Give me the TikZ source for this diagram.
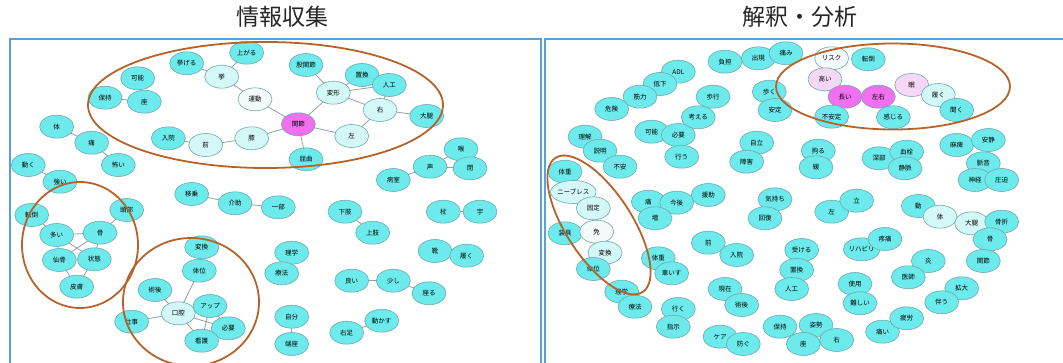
\documentclass[tikz,border=0pt]{standalone}
\usepackage{fontspec}
\newfontfamily\jp{Noto Sans CJK JP}
\usetikzlibrary{shapes.geometric,backgrounds}
\definecolor{cyanf}{RGB}{108,234,236}
\definecolor{lightc}{RGB}{212,248,248}
\definecolor{whitec}{RGB}{244,250,250}
\definecolor{magf}{RGB}{240,112,240}
\definecolor{pinkf}{RGB}{246,216,246}
\definecolor{bord}{RGB}{110,170,175}
\definecolor{edgec}{RGB}{150,160,160}
\definecolor{brownc}{RGB}{180,100,42}
\definecolor{framec}{RGB}{90,160,220}
\tikzset{
  nd/.style={ellipse, draw=bord, line width=0.6pt, fill=cyanf, minimum width=34pt, minimum height=23pt, inner sep=0pt, font=\jp\fontsize{6.5}{7}\selectfont},
  lt/.style={nd, fill=lightc},
  wt/.style={nd, fill=whitec},
  mg/.style={nd, fill=magf},
  pk/.style={nd, fill=pinkf},
  lnk/.style={draw=edgec, line width=0.8pt},
  ring/.style={draw=brownc, line width=1.8pt},
  frm/.style={draw=framec, line width=1.6pt},
  ttl/.style={font=\jp\fontsize{23}{25}\selectfont, text=black!85}
}
\begin{document}
\begin{tikzpicture}[x=1pt,y=-1pt]
\useasboundingbox (0,0) rectangle (1063,363);
\clip (0,0) rectangle (1063,363);
\node[ttl] (t1) at (282,17) {情報収集};
\node[ttl] (t2) at (800,17) {解釈・分析};
\draw[frm] (10,380) -- (10,39) -- (541,39) -- (541,380);
\draw[frm] (545,380) -- (545,39) -- (1080,39);
% ---------- left panel ----------
\node[nd] (Lagaru) at (246.7,52.7) {上がる};
\node[nd] (Lageru) at (186.7,63.3) {挙げる};
\node[lt] (Lkyo) at (221.7,76.7) {挙};
\node[wt] (Lundo) at (255,99.3) {運動};
\node[nd] (Lkokan) at (306,65) {股関節};
\node[lt] (Lhenkei) at (333.3,92.7) {変形};
\node[mg] (Lkansetsu) at (298.3,124.3) {関節};
\node[lt] (Lhiza) at (251.7,138.3) {膝};
\node[lt] (Lmae) at (205.7,145) {前};
\node[nd] (Lnyuin) at (168.3,138.3) {入院};
\node[lt] (Lhidari) at (351.7,136) {左};
\node[nd] (Lkukkyoku) at (306,159.3) {屈曲};
\node[nd] (Lchikan) at (362,75) {置換};
\node[nd] (Ljinko) at (389.3,85) {人工};
\node[lt] (Lmigi) at (380,110) {右};
\node[nd] (Ldaitai) at (426.7,116) {大腿};
\node[nd] (Lkano) at (137.7,78.3) {可能};
\node[nd] (Lhoji) at (105,97.7) {保持};
\node[nd] (Lza) at (144.3,101.7) {座};
\node[nd] (Ltai) at (56.7,126.7) {体};
\node[nd] (Litami) at (91.7,142.7) {痛};
\node[nd] (Lkowai) at (118.3,165) {怖い};
\node[nd] (Lugoku) at (28.3,165) {動く};
\node[nd] (Ltsuyoi) at (60,181.7) {強い};
\node[nd] (Ltento) at (31.7,215) {転倒};
\node[nd] (Looi) at (56.7,235) {多い};
\node[nd] (Lhone) at (100,232.7) {骨};
\node[nd] (Lsenkotsu) at (59.3,260) {仙骨};
\node[nd] (Ljotai) at (94.3,259.3) {状態};
\node[nd] (Lhifu) at (76.7,286.7) {皮膚};
\node[nd] (Ltobu) at (126.7,210) {頭部};
\node[nd] (Lhenkan) at (201.7,247.3) {変換};
\node[nd] (Ltaii) at (199.3,270.7) {体位};
\node[nd] (Ljutsugo) at (155,290) {術後};
\node[lt] (Lkoku) at (178.3,313.3) {口腔};
\node[nd] (Lup) at (210,306) {アップ};
\node[nd] (Lhitsuyo) at (228.3,328.3) {必要};
\node[nd] (Lkango) at (201.7,340.7) {看護};
\node[nd] (Lshigoto) at (131.7,321.7) {仕事};
\node[nd] (Lijo) at (191.7,194) {移乗};
\node[nd] (Lkaijo) at (235,203.3) {介助};
\node[nd] (Lichibu) at (278.3,207.3) {一部};
\node[nd] (Lrigaku) at (291.7,252.7) {理学};
\node[nd] (Lryoho) at (281.7,273.3) {療法};
\node[nd] (Ljibun) at (291.7,316.7) {自分};
\node[nd] (Ltanza) at (291.7,344) {端座};
\node[nd] (Lkashi) at (345,211.7) {下肢};
\node[nd] (Ljoshi) at (372.7,232.7) {上肢};
\node[nd] (Lyoi) at (351.7,280.7) {良い};
\node[nd] (Lsukoshi) at (393.3,280.7) {少し};
\node[nd] (Lsuwaru) at (429,293.3) {座る};
\node[nd] (Lmigiashi) at (346.7,332.7) {右足};
\node[nd] (Lugokasu) at (381.7,320.7) {動かす};
\node[nd] (Ltsue) at (443.3,211.7) {杖};
\node[nd] (Lu) at (480,211.7) {宇};
\node[nd] (Lkutsu) at (435,251) {靴};
\node[nd] (Lhaku) at (466.7,255.7) {履く};
\node[nd] (Lbyoshitsu) at (393.3,180) {病室};
\node[nd] (Lkoe) at (430,166.7) {声};
\node[nd] (Lnodo) at (461,149.3) {喉};
\node[nd] (Lhei) at (470,168.3) {閉};
\begin{scope}[on background layer]
\fill[white] (0,0) rectangle (1063,363);
\foreach \a/\b in {Lagaru/Lkyo, Lageru/Lkyo, Lkyo/Lundo, Lundo/Lkansetsu, Lkokan/Lhenkei, Lhenkei/Lkansetsu, Lhenkei/Lchikan, Lhenkei/Ljinko, Lhenkei/Lmigi, Lchikan/Ljinko, Lmigi/Ljinko, Lmigi/Ldaitai, Lmigi/Lhidari, Lkansetsu/Lhidari, Lkansetsu/Lkukkyoku, Lkansetsu/Lhiza, Lhiza/Lmae, Lmae/Lnyuin, Lkano/Lza, Lhoji/Lza, Ltai/Litami, Litami/Lkowai, Lugoku/Ltsuyoi, Ltento/Looi, Looi/Lhone, Looi/Lsenkotsu, Looi/Ljotai, Lhone/Ljotai, Lhone/Lsenkotsu, Ljotai/Lhifu, Lsenkotsu/Lhifu, Lhone/Ltobu, Lhenkan/Ltaii, Ltaii/Lkoku, Ljutsugo/Lkoku, Lshigoto/Lkoku, Lkoku/Lup, Lkoku/Lhitsuyo, Lkoku/Lkango, Lup/Lhitsuyo, Lup/Lkango, Lijo/Lkaijo, Lkaijo/Lichibu, Lrigaku/Lryoho, Ljibun/Ltanza, Lkashi/Ljoshi, Lyoi/Lsukoshi, Lsukoshi/Lsuwaru, Lmigiashi/Lugokasu, Ltsue/Lu, Lkutsu/Lhaku, Lbyoshitsu/Lkoe, Lkoe/Lnodo, Lkoe/Lhei}
  \draw[lnk] (\a.center) -- (\b.center);
\end{scope}
% ---------- right panel ----------
\node[nd] (RADL) at (678.3,71.7) {ADL};
\node[nd] (Rteika) at (660,84) {低下};
\node[nd] (Rkinryoku) at (640,96.7) {筋力};
\node[nd] (Rkiken) at (611.7,109) {危険};
\node[nd] (Rrikai) at (585,136.7) {理解};
\node[nd] (Rsetsumei) at (600,150.7) {説明};
\node[nd] (Rfuan) at (620,166.7) {不安};
\node[nd] (Rkano) at (651.7,131.7) {可能};
\node[nd] (Rhitsuyo) at (678.3,135) {必要};
\node[nd] (Rokonau) at (681.7,156.7) {行う};
\node[nd] (Rkangaeru) at (698.3,117.3) {考える};
\node[nd] (Rhoko) at (713,96.7) {歩行};
\node[nd] (Rfutan) at (725,61.7) {負担};
\node[nd] (Rshutsugen) at (758.3,58.3) {出現};
\node[nd] (Ritami) at (786,53.3) {痛み};
\node[nd] (Raruku) at (769.3,91.7) {歩く};
\node[nd] (Rantei) at (775,110) {安定};
\node[nd] (Rjiritsu) at (756.7,142.7) {自立};
\node[nd] (Rshogai) at (746.7,161.7) {障害};
\node[nd] (Rkodawaru) at (818.3,150.7) {拘る};
\node[nd] (Rkan) at (816,167.3) {緩};
\node[nd] (Rshinbu) at (879,158.3) {深部};
\node[wt] (Rrisk) at (831.7,58.3) {リスク};
\node[nd] (Rtento) at (868.3,59.3) {転倒};
\node[pk] (Rtakai) at (825,79.3) {高い};
\node[mg] (Rnagai) at (845,96.7) {長い};
\node[mg] (Rsayu) at (878.3,96.7) {左右};
\node[nd] (Rfuantei) at (831.7,116.7) {不安定};
\node[nd] (Rkanjiru) at (893.3,117.3) {感じる};
\node[pk] (Rnemu) at (911.7,85) {眠};
\node[lt] (Rhaku) at (938.3,95) {履く};
\node[nd] (Rkiku) at (956.7,110) {聞く};
\node[nd] (Rmahi) at (956.7,145) {麻痺};
\node[nd] (Ransei) at (988.3,140) {安静};
\node[nd] (Rmyakuon) at (983.3,163.3) {脈音};
\node[nd] (Rshinkei) at (975,180) {神経};
\node[nd] (Rappaku) at (1001.7,180) {圧迫};
\node[nd] (Rkessen) at (906.7,151.7) {血栓};
\node[nd] (Rjomyaku) at (905,168.3) {静脈};
\node[nd] (Rtaiju) at (565,171.7) {体重};
\node[lt] (Rknee) at (573.3,192) {ニーブレス};
\node[lt] (Rkotei) at (593.3,208.3) {固定};
\node[nd] (Rsogu) at (565,233.3) {装具};
\node[wt] (Rmen) at (596.7,231.7) {免};
\node[lt] (Rhenkan) at (605,252.7) {変換};
\node[nd] (Rtaii) at (593.3,269) {体位};
\node[nd] (Rrigaku) at (621.7,291.7) {理学};
\node[nd] (Rryoho) at (635,306.7) {療法};
\node[nd] (Rtsu) at (648.3,201.7) {痛};
\node[nd] (Rkongo) at (676.7,202.7) {今後};
\node[nd] (Renjo) at (708.3,195) {援助};
\node[nd] (Rzo) at (655,218.3) {増};
\node[nd] (Rtaiju2) at (658.3,258.3) {体重};
\node[nd] (Rkurumaisu) at (671.7,273.3) {車いす};
\node[nd] (Riku) at (678.3,309) {行く};
\node[nd] (Rshiji) at (673.3,326.7) {指示};
\node[nd] (Rmae) at (708.3,242.7) {前};
\node[nd] (Rnyuin) at (736.7,255) {入院};
\node[nd] (Rgenzai) at (725,289) {現在};
\node[nd] (Rjutsugo) at (741.7,305) {術後};
\node[nd] (Rcare) at (720,336.7) {ケア};
\node[nd] (Rfusegu) at (743.3,344) {防ぐ};
\node[nd] (Rkimochi) at (775,199.3) {気持ち};
\node[nd] (Rkaifuku) at (765,218.3) {回復};
\node[nd] (Rhidari) at (831.7,211.7) {左};
\node[nd] (Rtatsu) at (856.7,200.7) {立};
\node[nd] (Rukeru) at (801.7,250) {受ける};
\node[nd] (Rchikan) at (796.7,270) {置換};
\node[nd] (Rjinko) at (791.7,289) {人工};
\node[nd] (Rreha) at (861.7,249.3) {リハビリ};
\node[nd] (Rtotsu) at (885,239) {疼痛};
\node[nd] (Rshiyo) at (855,284) {使用};
\node[nd] (Rmuzukashii) at (860,303.3) {難しい};
\node[nd] (Rhoji) at (780,326.7) {保持};
\node[nd] (Rshisei) at (816,325) {姿勢};
\node[nd] (Rza) at (803.3,344) {座};
\node[nd] (Rmigi) at (836.7,340) {右};
\node[nd] (Ritai) at (882.5,331.7) {痛い};
\node[nd] (Rhiro) at (906.7,318.3) {疲労};
\node[nd] (Rdo) at (918.3,206) {動};
\node[lt] (Rtai) at (940,216.7) {体};
\node[lt] (Rdaitai) at (971.7,223.3) {大腿};
\node[nd] (Rkossetsu) at (1001.7,221.7) {骨折};
\node[nd] (Rhone) at (990,239.3) {骨};
\node[nd] (Rkansetsu) at (983.3,261) {関節};
\node[nd] (Ren) at (928.3,261) {炎};
\node[nd] (Rishi) at (908.3,277.3) {医師};
\node[nd] (Rkakudai) at (961.7,288.3) {拡大};
\node[nd] (Rtomonau) at (941.7,302.3) {伴う};
% ---------- rings ----------
\draw[ring] (265.5,105) ellipse [x radius=177.5, y radius=63];
\draw[ring] (80,245) ellipse [x radius=58, y radius=63];
\draw[ring] (191,302) ellipse [x radius=68, y radius=64];
\draw[ring] (893,86.5) ellipse [x radius=117, y radius=43];
\draw[ring, rotate around={-57:(599,225)}] (599,225) ellipse [x radius=80, y radius=33];
\end{tikzpicture}
\end{document}
